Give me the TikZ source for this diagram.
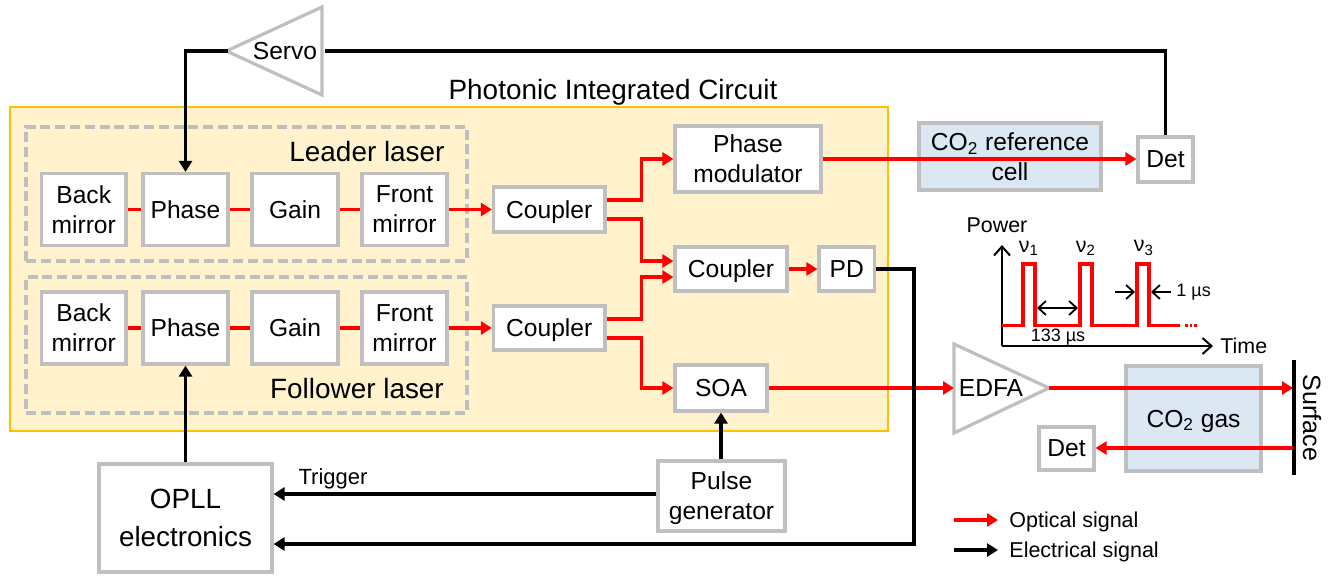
\documentclass[tikz,border=0pt]{standalone}
\usepackage{fontspec}
\setmainfont{Liberation Sans}
\usetikzlibrary{arrows.meta}
\definecolor{picfill}{HTML}{FFF2CC}
\definecolor{picedge}{HTML}{FFC000}
\definecolor{cellfill}{HTML}{DCE7F4}
\definecolor{edgegray}{HTML}{BFBFBF}
\definecolor{optred}{HTML}{FF0000}
\tikzset{
  box/.style={draw=edgegray,line width=1.6pt,fill=white,inner sep=0pt,align=center,font=\fontsize{12.3}{15}\selectfont},
  onebox/.style={box,text depth=0pt},
  cellbox/.style={box,fill=cellfill},
  plain/.style={inner sep=0pt,font=\fontsize{12.3}{15}\selectfont},
  optical/.style={draw=optred,line width=1.8pt},
  opticalarrow/.style={optical,-{Triangle[length=5.5pt,width=6.5pt]}},
  electrical/.style={draw=black,line width=1.8pt},
  electricalarrow/.style={electrical,-{Triangle[length=5.5pt,width=6.5pt]}},
  dashbox/.style={draw=edgegray,line width=1.7pt,dash pattern=on 5pt off 2.4pt},
  axis/.style={draw=black,line width=1pt,-{Straight Barb[length=4.5pt,width=8pt,line width=1pt]}},
  span/.style={draw=black,line width=.9pt,-{Straight Barb[length=3.8pt,width=7pt,line width=.9pt]}},
  span2/.style={draw=black,line width=.9pt,{Straight Barb[length=3.8pt,width=7pt,line width=.9pt]}-{Straight Barb[length=3.8pt,width=7pt,line width=.9pt]}},
  chart/.style={inner sep=0pt,font=\fontsize{10.7}{13}\selectfont},
  small/.style={inner sep=0pt,font=\fontsize{9}{11}\selectfont},
  legendtext/.style={inner sep=0pt,anchor=west,text depth=0pt,font=\fontsize{10.75}{13}\selectfont},
}
\newcommand{\bx}[7][box]{\node[#1,minimum width={(#5-#3)*0.5pt},minimum height={(#6-#4)*0.5pt}] (#2) at ({(#3+#5)/2},{(#4+#6)/2}) {#7};}
\begin{document}
\begin{tikzpicture}[x=0.5pt,y=-0.5pt]
\useasboundingbox (0,0) rectangle (1333,575);
% panels
\node[draw=picedge,line width=1pt,fill=picfill,minimum width=439pt,minimum height=162pt,inner sep=0pt] (pic) at (449,269) {};
\node[plain,font=\fontsize{13.95}{16}\selectfont] (pictitle) at (613,92) {Photonic Integrated Circuit};
\node[dashbox,minimum width=220.5pt,minimum height=67pt,inner sep=0pt] (leadbox) at (246.5,194) {};
\node[dashbox,minimum width=220.5pt,minimum height=68pt,inner sep=0pt] (follbox) at (246.5,345) {};
\node[plain,font=\fontsize{13.95}{16}\selectfont] (leadlabel) at (367,152) {Leader laser};
\node[plain,font=\fontsize{13.95}{16}\selectfont] (follabel) at (357,389) {Follower laser};
% leader
\bx{lb}{41.5}{173.5}{126}{245.5}{Back\\mirror}
\bx[onebox]{lp}{143}{173.5}{228}{245.5}{Phase}
\bx[onebox]{lg}{252}{173.5}{338}{245.5}{Gain}
\bx{lf}{362}{173.5}{447}{245.5}{Front\\mirror}
% follower
\bx{fb}{41.5}{292}{126}{364}{Back\\mirror}
\bx[onebox]{fp}{143}{292}{228}{364}{Phase}
\bx[onebox]{fg}{252}{292}{338}{364}{Gain}
\bx{ff}{362}{292}{447}{364}{Front\\mirror}
% middle
\bx[onebox]{c1}{493.5}{187}{605}{232}{Coupler}
\bx[onebox]{c2}{493.5}{306}{605}{350}{Coupler}
\bx{pm}{675}{126}{821}{192}{Phase\\modulator}
\bx[onebox]{c3}{675}{247}{787}{291}{Coupler}
\bx[onebox]{pd}{819}{247}{874.5}{291}{PD}
\bx[onebox]{soa}{675}{365}{767}{411}{SOA}
% outside
\bx[cellbox]{cell}{919}{123}{1101}{190}{CO\textsubscript{2} reference\\cell}
\bx[onebox]{det1}{1138}{137}{1193}{182}{Det}
\bx[cellbox,text depth=0pt]{gas}{1126}{366}{1261}{471}{CO\textsubscript{2} gas}
\bx[onebox]{det2}{1039}{427}{1094}{470}{Det}
\bx[onebox]{pg}{658}{461}{785}{531}{Pulse\\generator}
\bx[box,font=\fontsize{13.9}{19}\selectfont]{opll}{99}{464}{272}{572}{OPLL\\electronics}
% amplifiers
\coordinate (servotip) at (228,51);
\coordinate (servoback) at (322,51);
\draw[edgegray,line width=1.6pt,fill=white,line join=miter] (226.5,51) -- (322,7) -- (322,95) -- cycle;
\node[plain,text depth=0pt] (servo) at (285,51) {Servo};
\coordinate (edfatip) at (1049,388);
\coordinate (edfaback) at (954,388);
\draw[edgegray,line width=1.6pt,fill=white,line join=miter] (edfatip) -- (954,344) -- (954,433) -- cycle;
\node[plain,text depth=0pt] (edfa) at (991,388) {EDFA};
% surface
\coordinate (surftop) at (1294,360);
\coordinate (surfbot) at (1294,475);
\draw[electrical] (surftop) -- (surfbot);
\node[plain,rotate=-90,font=\fontsize{12.5}{14}\selectfont] (surface) at (1312,418) {Surface};
\coordinate (surfout) at (1293,388);
\coordinate (surfin) at (1293,448);
% optical chain
\draw[optical] (lb) -- (lp);
\draw[optical] (lp) -- (lg);
\draw[optical] (lg) -- (lf);
\draw[opticalarrow] (lf) -- (lf -| c1.west);
\draw[optical] (fb) -- (fp);
\draw[optical] (fp) -- (fg);
\draw[optical] (fg) -- (ff);
\draw[opticalarrow] (ff) -- (ff -| c2.west);
\draw[opticalarrow] ([yshift=4.75pt]c1.east) -- ++(17.5pt,0) |- (pm.west);
\draw[opticalarrow] ([yshift=-4.75pt]c1.east) -- ++(17.5pt,0) |- ([yshift=4pt]c3.west);
\draw[opticalarrow] ([yshift=4.5pt]c2.east) -- ++(17.5pt,0) |- ([yshift=-4pt]c3.west);
\draw[opticalarrow] ([yshift=-5pt]c2.east) -- ++(17.5pt,0) |- (soa.west);
\draw[opticalarrow] (c3) -- (pd);
\draw[opticalarrow] (pm) -- (pm -| det1.west);
\draw[opticalarrow] (soa) -- (edfaback);
\draw[opticalarrow] (edfatip) -- (surfout);
\draw[opticalarrow] (surfin) -- (surfin -| det2.east);
% electrical
\draw[electrical] (servoback) ++(1.5pt,0) -| (det1.north);
\draw[electricalarrow] (servotip) -| (lp.north);
\draw[electricalarrow] (opll.north -| fp.south) -- (fp.south);
\draw[electricalarrow] (pg.north -| soa.south) -- (soa.south);
\draw[electricalarrow] ([yshift=1pt]pg.west) -- ([yshift=1pt]pg.west -| opll.east);
\node[legendtext,anchor=center,font=\fontsize{11}{13}\selectfont] (trig) at (333,477) {Trigger};
\coordinate (pdturn) at (914,269);
\coordinate (pdret) at (914,544);
\draw[electricalarrow] (pd.east) -- (pdturn) -- (pdret) -- (pdret -| opll.east);
% chart
\coordinate (origin) at (1002,346);
\coordinate (ytop) at (1002,245);
\coordinate (xend) at (1213,346);
\draw[axis] (origin) -- (ytop);
\draw[axis] (origin) -- (xend);
\node[chart,anchor=south] (power) at (997,233) {Power};
\node[chart,anchor=west] (time) at (1220,346) {Time};
\draw[optred,line width=1.8pt] (1002,325.5) -- (1023,325.5) -- (1023,264) -- (1035,264) -- (1035,325.5) -- (1080,325.5) -- (1080,264) -- (1092,264) -- (1092,325.5) -- (1137,325.5) -- (1137,264) -- (1149,264) -- (1149,325.5) -- (1180,325.5);
\draw[optred,line width=1.8pt,dash pattern=on 1.3pt off 1pt] (1185,325.5) -- (1197,325.5);
\node[chart] (nu1) at (1029,248) {ν\textsubscript{1}};
\node[chart] (nu2) at (1086,248) {ν\textsubscript{2}};
\node[chart] (nu3) at (1144,248) {ν\textsubscript{3}};
\coordinate (gapa) at (1037,308);
\coordinate (gapb) at (1078,308);
\draw[span2] (gapa) -- (gapb);
\node[small] (t133) at (1058,337) {133 µs};
\coordinate (wla) at (1115,292);
\coordinate (wlb) at (1135,292);
\coordinate (wra) at (1171,292);
\coordinate (wrb) at (1151,292);
\draw[span] (wla) -- (wlb);
\draw[span] (wra) -- (wrb);
\node[small,anchor=west] (t1) at (1176,292) {1 µs};
% legend
\coordinate (la1) at (954,520);
\coordinate (la2) at (998,520);
\coordinate (lb1) at (954,550);
\coordinate (lb2) at (998,550);
\draw[opticalarrow] (la1) -- (la2);
\draw[electricalarrow] (lb1) -- (lb2);
\node[legendtext] (lopt) at (1009,520) {Optical signal};
\node[legendtext] (lele) at (1009,550) {Electrical signal};
\end{tikzpicture}
\end{document}
